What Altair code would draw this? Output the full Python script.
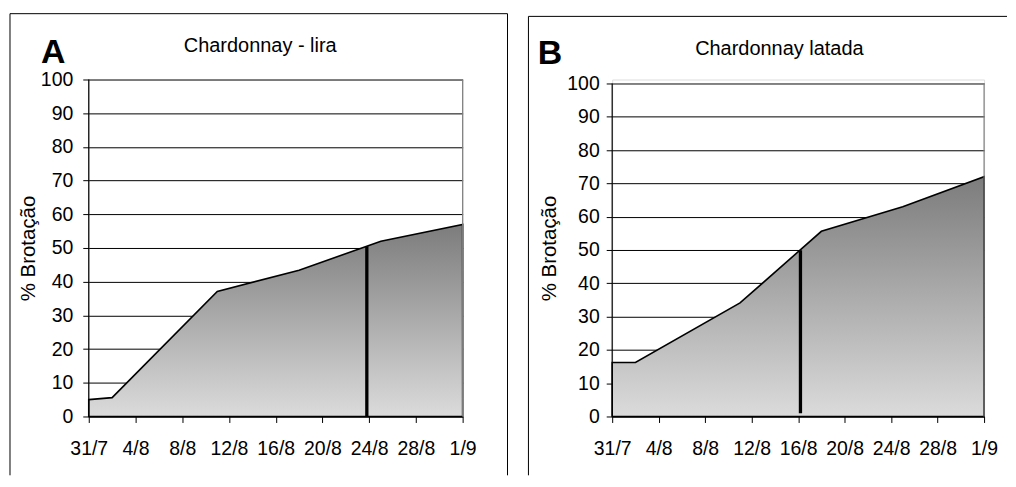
import altair as alt
import pandas as pd

# ---- data ----
obs_dates = ["31/7", "2/8", "11/8", "18/8", "25/8", "1/9"]
obs_day = [0, 2, 11, 18, 25, 32]            # days after 31/7
lira = [5.0, 5.6, 37.1, 43.4, 52.0, 57.0]    # % brotação, Chardonnay - lira
latada = [16.2, 16.2, 34.1, 55.6, 63.0, 72.0]  # % brotação, Chardonnay latada

tick_labels = ["31/7", "4/8", "8/8", "12/8", "16/8", "20/8", "24/8", "28/8", "1/9"]
tick_days = [0, 4, 8, 12, 16, 20, 24, 28, 32]
y_ticks = [0, 10, 20, 30, 40, 50, 60, 70, 80, 90, 100]

# 50 % brotação markers (day, bottom, top)
mark50_lira = (23.8, 0.0, 50.5)
mark50_latada = (16.2, 1.0, 49.9)

FONT = "Liberation Sans"
label_expr = "[" + ",".join(f"'{t}'" for t in tick_labels) + "][round(datum.value/4)]"
one = pd.DataFrame({"k": [0]})


def panel(vals, mark50, letter, title, w, h, ymax, lab_pad, ttl_pad,
          letter_xy, title_xy, frame):
    df = pd.DataFrame({"date": obs_dates, "day": obs_day, "pct": vals})
    xs = alt.Scale(domain=[0, 32], nice=False)
    ys = alt.Scale(domain=[0, ymax], nice=False, zero=True)
    x_axis = alt.Axis(
        values=tick_days, labelExpr=label_expr, title=None, grid=False,
        tickSize=6, tickColor="black", domainColor="black", domainWidth=1,
        labelFontSize=19.5, labelColor="black", labelPadding=17,
        labelFont=FONT, labelFlush=False)
    y_axis = alt.Axis(
        values=y_ticks, title="% Brotação", grid=True, gridColor="black",
        gridWidth=1, gridOpacity=1, domain=False, tickSize=6, tickColor="black",
        labelFontSize=19.5, labelColor="black", labelPadding=lab_pad,
        labelFont=FONT, titleFont=FONT, titleFontSize=20.5,
        titleFontWeight="normal", titleColor="black", titlePadding=ttl_pad)
    X = lambda f="day:Q": alt.X(f, scale=xs, axis=x_axis, title=None)
    Y = lambda f="pct:Q": alt.Y(f, scale=ys, axis=y_axis, title="% Brotação")

    area = alt.Chart(df).mark_area(
        stroke="black", strokeWidth=1.6, strokeJoin="miter",
        color=alt.Gradient(
            gradient="linear",
            stops=[alt.GradientStop(color="#dbdbdb", offset=0),
                   alt.GradientStop(color="#7c7c7c", offset=1)],
            x1=1, x2=1, y1=1, y2=0),
    ).encode(x=X(), y=Y())

    border_df = pd.DataFrame({"day": [0], "day2": [32], "pct": [100]})
    top_border = alt.Chart(border_df).mark_rule(color="#808080", strokeWidth=1.2).encode(
        x=X(), x2="day2:Q", y=Y())
    side_df = pd.DataFrame({"day": [32, 0], "pct": [0, 0], "pct2": [100, 100],
                            "c": ["#808080", "black"]})
    sides = alt.Chart(side_df).mark_rule(strokeWidth=1.2).encode(
        x=X(), y=Y(), y2="pct2:Q", color=alt.Color("c:N", scale=None))

    m_df = pd.DataFrame({"day": [mark50[0]], "pct": [mark50[1]], "pct2": [mark50[2]]})
    m50 = alt.Chart(m_df).mark_rule(color="black", strokeWidth=3.3).encode(
        x=X(), y=Y(), y2="pct2:Q")

    letter_t = alt.Chart(one).mark_text(
        text=letter, font=FONT, fontSize=34, fontWeight="bold", align="left",
        baseline="alphabetic", color="black").encode(
        x=alt.value(letter_xy[0]), y=alt.value(letter_xy[1]))
    title_t = alt.Chart(one).mark_text(
        text=title, font=FONT, fontSize=20, align="center",
        baseline="alphabetic", color="black").encode(
        x=alt.value(title_xy[0]), y=alt.value(title_xy[1]))

    fl, ft, fr, fb, right_edge = frame
    frame_top = alt.Chart(one).mark_rule(color="black", strokeWidth=1).encode(
        x=alt.value(fl), x2=alt.value(fr), y=alt.value(ft))
    frame_left = alt.Chart(one).mark_rule(color="black", strokeWidth=1).encode(
        x=alt.value(fl), y=alt.value(ft), y2=alt.value(fb))
    layers = [frame_top, frame_left]
    if right_edge:
        layers.append(alt.Chart(one).mark_rule(color="black", strokeWidth=1).encode(
            x=alt.value(fr), y=alt.value(ft), y2=alt.value(fb)))

    return alt.layer(top_border, area, sides, m50, letter_t, title_t, *layers).properties(
        width=w, height=h)


pA = panel(lira, mark50_lira, "A", "Chardonnay - lira", 375, 338, 100, 10, 2,
           (-48, -17), (172, -27.5), (-79, -66, 420, 397, True))
pB = panel(latada, mark50_latada, "B", "Chardonnay latada", 373, 338, 101.2, 7, 7,
           (-74.7, -15.5), (167.7, -25), (-84, -63.3, 396, 397, False))

chart = alt.hconcat(pA, pB, spacing=150, bounds="flush").properties(
    padding={"left": 1, "top": 4, "right": 0, "bottom": 0},
    background="white",
).configure_view(stroke=None).configure(font=FONT)

chart.save("out.html", embed_options={"renderer": "svg", "actions": False})
